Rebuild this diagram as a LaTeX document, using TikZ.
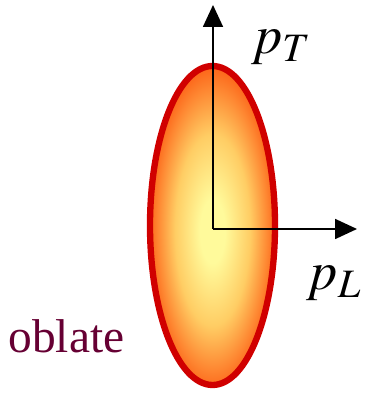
\documentclass[tikz,border=0pt]{standalone}
\usepackage{mathptmx}
\usepackage{fontspec}
\setmainfont{Liberation Serif}
\usetikzlibrary{arrows.meta}
\definecolor{BlobCore}{RGB}{255,250,155}
\definecolor{BlobMid}{RGB}{255,205,100}
\definecolor{BlobRim}{RGB}{253,105,28}
\definecolor{BlobEdge}{RGB}{208,0,0}
\definecolor{OblateRed}{RGB}{102,0,51}
\pgfdeclareradialshading{blobglow}{\pgfpoint{0bp}{-1bp}}{color(0bp)=(BlobCore); color(5bp)=(BlobCore); color(15bp)=(BlobMid); color(25bp)=(BlobRim); color(50bp)=(BlobRim)}

\begin{document}
\begin{tikzpicture}[x=.02cm,y=.02cm,>={Triangle[length=.44cm,width=.4cm]},
  axis/.style={->,line width=1pt},lbl/.style={font=\fontsize{31}{36}\selectfont}]
\useasboundingbox (0,0) rectangle (375,394);
\coordinate (o) at (213,165);
\coordinate (ptop) at (213,389);
\coordinate (lend) at (357,165);
\path[shading=blobglow,draw=BlobEdge,line width=3.6pt] (212.5,168.5) ellipse [x radius=62.5,y radius=159.5];
\draw[axis] (o) -- (ptop);
\draw[axis] (o) -- (lend);
\node[lbl] (pt) at (281,347) {$p_T$};
\node[lbl] (pl) at (334,111) {$p_L$};
\node[font=\fontsize{27}{30}\selectfont,text=OblateRed,anchor=base] (ob) at (66.5,41) {oblate};
\end{tikzpicture}
\end{document}
